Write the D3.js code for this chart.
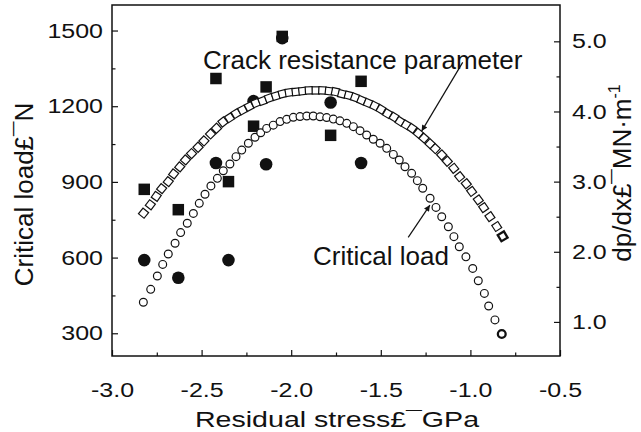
<!DOCTYPE html>
<html lang="en">
<head>
<meta charset="utf-8">
<title>Critical load and crack resistance vs residual stress</title>
<script src="https://cdnjs.cloudflare.com/ajax/libs/d3/7.8.5/d3.min.js"></script>
<style>
  body { margin: 0; background: #fff; }
  svg text { font-family: "Liberation Sans", Arial, Helvetica, sans-serif; fill: #111; }
</style>
</head>
<body>
<svg id="canvas" width="641" height="432"></svg>
<script>
// measured points (filled markers)
const stress = [-2.82, -2.63, -2.42, -2.35, -2.21, -2.14, -2.05, -1.78, -1.61];
const criticalLoad = [590, 520, 975, 590, 1220, 970, 1470, 1215, 975];
const crackParam = [2.89, 2.60, 4.47, 3.00, 3.79, 4.35, 5.07, 3.66, 4.43];

// fitted curve, critical load (open circles, left axis)
const loadFitX = [-2.825, -2.784, -2.747, -2.717, -2.686, -2.648, -2.617, -2.580, -2.546, -2.513,
  -2.481, -2.448, -2.412, -2.379, -2.342, -2.308, -2.276, -2.239, -2.202, -2.170,
  -2.137, -2.100, -2.062, -2.025, -1.988, -1.951, -1.913, -1.877, -1.839, -1.802,
  -1.765, -1.728, -1.690, -1.653, -1.616, -1.579, -1.542, -1.504, -1.467, -1.430,
  -1.397, -1.365, -1.328, -1.296, -1.266, -1.225, -1.192, -1.160, -1.123, -1.092,
  -1.062, -1.025, -0.987, -0.956, -0.922, -0.898, -0.863, -0.825];
const loadFitY = [423, 474, 527, 573, 614, 657, 699, 736, 775, 815,
  851, 884, 914, 944, 971, 1000, 1026, 1053, 1077, 1095,
  1112, 1125, 1139, 1148, 1156, 1159, 1161, 1161, 1158, 1155,
  1149, 1142, 1132, 1119, 1103, 1086, 1069, 1053, 1033, 1009,
  987, 960, 934, 905, 875, 835, 799, 762, 722, 683,
  643, 603, 557, 508, 458, 408, 353, 297];

// fitted curve, crack resistance parameter (open squares, right axis)
const crackFitX = [-2.824, -2.786, -2.753, -2.723, -2.686, -2.656, -2.622, -2.590, -2.556, -2.520,
  -2.487, -2.450, -2.417, -2.381, -2.344, -2.308, -2.272, -2.235, -2.198, -2.160,
  -2.124, -2.086, -2.049, -2.012, -1.974, -1.937, -1.901, -1.863, -1.826, -1.789,
  -1.753, -1.717, -1.680, -1.644, -1.608, -1.571, -1.535, -1.499, -1.463, -1.426,
  -1.393, -1.359, -1.326, -1.291, -1.259, -1.225, -1.196, -1.160, -1.129, -1.093,
  -1.060, -1.023, -0.993, -0.956, -0.926, -0.891, -0.853, -0.820];
const crackFitY = [2.55, 2.67, 2.79, 2.90, 3.00, 3.11, 3.21, 3.31, 3.40, 3.49,
  3.58, 3.68, 3.76, 3.85, 3.91, 3.97, 4.02, 4.07, 4.12, 4.15,
  4.19, 4.22, 4.25, 4.27, 4.28, 4.29, 4.30, 4.30, 4.30, 4.29,
  4.28, 4.25, 4.23, 4.20, 4.16, 4.12, 4.08, 4.03, 3.97, 3.92,
  3.86, 3.81, 3.76, 3.69, 3.62, 3.54, 3.47, 3.38, 3.29, 3.19,
  3.07, 2.97, 2.86, 2.74, 2.63, 2.50, 2.36, 2.22];

// ticks
const xTicks = [-3.0, -2.5, -2.0, -1.5, -1.0, -0.5];
const xMinor = [-2.75, -2.25, -1.75, -1.25, -0.75];
const loadTicks = [300, 600, 900, 1200, 1500];
const loadMinor = [450, 750, 1050, 1350];
const crackTicks = [1.0, 2.0, 3.0, 4.0, 5.0];
const crackMinor = [1.5, 2.5, 3.5, 4.5];

const svg = d3.select("#canvas");
const plotL = 112, plotR = 560, plotT = 5, plotB = 356;

const x = d3.scaleLinear().domain([-3, -0.5]).range([plotL, plotR]);
const yL = d3.scaleLinear().domain([200, 1600]).range([358.5, 5.3]);
const yR = d3.scaleLinear().domain([0.5, 5.5]).range([357, 6.25]);

const sx = 1.22; // tick labels are drawn a bit wide in the original

// axes, ticks pointing inward
function axisGroup(axis, tx, ty) {
  return svg.append("g")
    .attr("transform", "translate(" + tx + "," + ty + ")")
    .call(axis)
    .attr("font-size", 20.5)
    .attr("font-family", null)
    .attr("color", "#111")
    .call(g => g.select(".domain").remove())
    .call(g => g.selectAll(".tick line").attr("stroke-width", 1.2));
}

const fmt1 = d => d.toFixed(1);

let gx = axisGroup(d3.axisBottom(x).tickValues(xTicks).tickFormat(fmt1)
  .tickSize(-6).tickSizeOuter(0).tickPadding(26), 0, plotB);
gx.selectAll(".tick text").attr("transform", "scale(" + sx + ",1)");
axisGroup(d3.axisBottom(x).tickValues(xMinor).tickFormat("").tickSize(-3.5).tickSizeOuter(0), 0, plotB);

let gl = axisGroup(d3.axisLeft(yL).tickValues(loadTicks).tickFormat(d3.format("d"))
  .tickSize(-6).tickSizeOuter(0).tickPadding(9), plotL, 0);
gl.selectAll(".tick text").attr("transform", "scale(" + sx + ",1)").attr("x", -9 / sx);
axisGroup(d3.axisLeft(yL).tickValues(loadMinor).tickFormat("").tickSize(-3.5).tickSizeOuter(0), plotL, 0);

let gr = axisGroup(d3.axisRight(yR).tickValues(crackTicks).tickFormat(fmt1)
  .tickSize(-6).tickSizeOuter(0).tickPadding(12), plotR, 0);
gr.selectAll(".tick text").attr("transform", "scale(" + sx + ",1)").attr("x", 12 / sx);
axisGroup(d3.axisRight(yR).tickValues(crackMinor).tickFormat("").tickSize(-3.5).tickSizeOuter(0), plotR, 0);

// frame
svg.append("rect")
  .attr("x", plotL).attr("y", plotT)
  .attr("width", plotR - plotL).attr("height", plotB - plotT)
  .attr("fill", "none").attr("stroke", "#111").attr("stroke-width", 1.5);

// axis titles
svg.append("text")
  .attr("transform", "translate(" + ((plotL + plotR) / 2 + 1) + ",427) scale(1.27,1)")
  .attr("text-anchor", "middle").attr("font-size", 22.5)
  .text("Residual stress£¯GPa");

svg.append("text")
  .attr("transform", "translate(33," + ((plotT + plotB) / 2 + 14) + ") rotate(-90)")
  .attr("text-anchor", "middle").attr("font-size", 26)
  .text("Critical load£¯N");

const rt = svg.append("text")
  .attr("transform", "translate(631,173) rotate(-90)")
  .attr("text-anchor", "middle").attr("font-size", 26);
rt.append("tspan").text("dp/dx£¯MN·m");
rt.append("tspan").attr("font-size", 16).attr("dy", -11).text("-1");

// measured points
const pts = stress.map((s, i) => ({ s: s, load: criticalLoad[i], crack: crackParam[i] }));

svg.append("g").selectAll("path")
  .data(pts).join("path")
  .attr("transform", d => "translate(" + x(d.s) + "," + yR(d.crack) + ")")
  .attr("d", d3.symbol(d3.symbolSquare, 11.5 * 11.5))
  .attr("fill", "#111");

svg.append("g").selectAll("circle")
  .data(pts).join("circle")
  .attr("cx", d => x(d.s)).attr("cy", d => yL(d.load))
  .attr("r", 6.3)
  .attr("fill", "#111");

// fitted curves
const crackPix = crackFitX.map((d, i) => [x(d), yR(crackFitY[i])]);
function tangent(arr, i) {
  const a = arr[Math.max(i - 1, 0)], b = arr[Math.min(i + 1, arr.length - 1)];
  return Math.atan2(b[1] - a[1], b[0] - a[0]) * 180 / Math.PI;
}
svg.append("g").selectAll("rect")
  .data(crackPix).join("rect")
  .attr("x", -3.6).attr("y", -3.6).attr("width", 7.2).attr("height", 7.2)
  .attr("transform", (d, i) => "translate(" + d[0] + "," + d[1] + ") rotate(" + tangent(crackPix, i) + ")")
  .attr("fill", "#fff").attr("stroke", "#111")
  .attr("stroke-width", (d, i) => i === crackPix.length - 1 ? 2.3 : 1.2);

svg.append("g").selectAll("circle")
  .data(loadFitX).join("circle")
  .attr("cx", d => x(d)).attr("cy", (d, i) => yL(loadFitY[i]))
  .attr("r", 3.9)
  .attr("fill", "#fff").attr("stroke", "#111")
  .attr("stroke-width", (d, i) => i === loadFitX.length - 1 ? 2.3 : 1.2);

// annotations
svg.append("defs").append("marker")
  .attr("id", "head").attr("viewBox", "0 0 10 10")
  .attr("refX", 10).attr("refY", 5)
  .attr("markerWidth", 9).attr("markerHeight", 6)
  .attr("markerUnits", "userSpaceOnUse")
  .attr("orient", "auto")
  .append("path").attr("d", "M0,0L10,5L0,10Z").attr("fill", "#111");

svg.append("text")
  .attr("x", x(-2.492)).attr("y", yR(4.61))
  .attr("font-size", 26)
  .text("Crack resistance parameter");
svg.append("line")
  .attr("x1", x(-1.043)).attr("y1", yR(4.70))
  .attr("x2", x(-1.272)).attr("y2", yR(3.72))
  .attr("stroke", "#111").attr("stroke-width", 1.2)
  .attr("marker-end", "url(#head)");

svg.append("text")
  .attr("x", x(-1.878)).attr("y", yL(571))
  .attr("font-size", 26)
  .text("Critical load");
svg.append("line")
  .attr("x1", x(-1.347)).attr("y1", yL(680))
  .attr("x2", x(-1.226)).attr("y2", yL(808))
  .attr("stroke", "#111").attr("stroke-width", 1.2)
  .attr("marker-end", "url(#head)");
</script>
</body>
</html>
